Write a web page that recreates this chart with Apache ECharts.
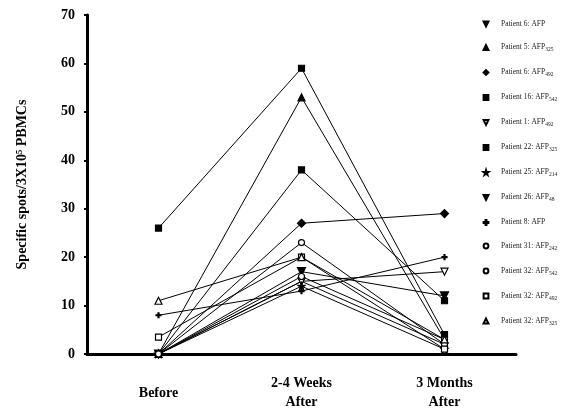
<!DOCTYPE html>
<html><head><meta charset="utf-8">
<script src="https://cdn.jsdelivr.net/npm/echarts@6/dist/echarts.min.js"></script>
<style>html,body{margin:0;padding:0;background:#fff}#c{width:586px;height:412px}</style>
</head><body><div id="c"></div>
<script>
const categories = ['Before', '2-4 Weeks\nAfter', '3 Months\nAfter'];
const yTicks = [0, 10, 20, 30, 40, 50, 60, 70];
const names = ['Patient 6: AFP', 'Patient 5: AFP325', 'Patient 6: AFP492', 'Patient 16: AFP542',
  'Patient 1: AFP492', 'Patient 22: AFP325', 'Patient 25: AFP214', 'Patient 26: AFP48',
  'Patient 8: AFP', 'Patient 31: AFP242', 'Patient 32: AFP542', 'Patient 32: AFP492', 'Patient 32: AFP325'];
const p6 = [0, 15, 2];
const p5 = [0, 53, 3];
const p6b = [0, 27, 29];
const p16 = [0, 38, 11];
const p1 = [0, 15, 17];
const p22 = [26, 59, 4];
const p25 = [0, 14, 1];
const p26 = [0, 17, 12];
const p8 = [8, 13, 20];
const p31 = [0, 16, 3];
const p32a = [0, 23, 2];
const p32b = [3.5, 20, 1];
const p32c = [11, 20, 3];
const seriesValues = [p6, p5, p6b, p16, p1, p22, p25, p26, p8, p31, p32a, p32b, p32c];

const star = 'path://M50,0 L61,35 L98,35 L68,57 L79,91 L50,70 L21,91 L32,57 L2,35 L39,35 Z';
const cross = 'path://M40,0 H60 V40 H100 V60 H60 V100 H40 V60 H0 V40 H40 Z';
const styles = [
  {s: 'triangle', r: 180, fill: '#000', size: 5},
  {s: 'triangle', r: 0, fill: '#000', size: 7},
  {s: 'diamond', r: 0, fill: '#000', size: 8},
  {s: 'rect', r: 0, fill: '#000', size: 6},
  {s: 'triangle', r: 180, fill: '#fff', size: 7},
  {s: 'rect', r: 0, fill: '#000', size: 6},
  {s: star, r: 0, fill: '#000', size: 7},
  {s: 'triangle', r: 180, fill: '#000', size: 8},
  {s: cross, r: 0, fill: '#000', size: 5},
  {s: 'circle', r: 0, fill: '#fff', size: 6},
  {s: 'circle', r: 0, fill: '#fff', size: 6},
  {s: 'rect', r: 0, fill: '#fff', size: 6},
  {s: 'triangle', r: 0, fill: '#fff', size: 7}
];

const font = '"Liberation Serif", "DejaVu Serif", serif';
const series = names.map((n, i) => ({
  name: n, type: 'line', data: seriesValues[i],
  symbol: styles[i].s, symbolRotate: styles[i].r, symbolSize: styles[i].size,
  showAllSymbol: true,
  lineStyle: {color: '#000', width: 1},
  itemStyle: {color: styles[i].fill, borderColor: '#000', borderWidth: 1.2},
  emphasis: {disabled: true},
  z: 3
}));

const chart = echarts.init(document.getElementById('c'));
chart.setOption({
  animation: false,
  backgroundColor: '#fff',
  grid: {left: 87, right: 70, top: 15, bottom: 55},
  legend: {
    orient: 'vertical', left: 470, top: 15,
    itemWidth: 20, itemHeight: 6, itemGap: 15.5,
    lineStyle: {opacity: 0},
    data: names.map(n => ({name: n})),
    formatter: function (name) {
      const m = name.match(/^(.*AFP)(\d*)$/);
      return m && m[2] ? m[1] + '{sub|' + m[2] + '}' : name;
    },
    textStyle: {fontFamily: font, fontSize: 7.5, color: '#222',
      rich: {sub: {fontFamily: font, fontSize: 5.5, color: '#222', verticalAlign: 'bottom', padding: [5, 0, 0, 0]}}}
  },
  xAxis: {
    type: 'category', data: categories, boundaryGap: true,
    axisLine: {lineStyle: {color: '#000', width: 3}},
    axisTick: {alignWithLabel: true, length: 4, lineStyle: {color: '#000', width: 2}},
    axisLabel: {color: '#000', fontFamily: font, fontWeight: 'bold', fontSize: 14, margin: 20, lineHeight: 19,
      formatter: v => v.indexOf('\n') < 0 ? '{b|' + v + '}' : v,
      rich: {b: {color: '#000', fontFamily: font, fontWeight: 'bold', fontSize: 14, padding: [19, 0, 0, 0]}}}
  },
  yAxis: {
    type: 'value', min: 0, max: 70, interval: 10,
    name: 'Specific spots/3X10\u2075 PBMCs', nameLocation: 'middle', nameGap: 58,
    nameTextStyle: {color: '#000', fontFamily: font, fontWeight: 'bold', fontSize: 14},
    splitLine: {show: false},
    axisLine: {show: true, lineStyle: {color: '#000', width: 3}},
    axisTick: {show: true, length: 3, lineStyle: {color: '#000', width: 2}},
    axisLabel: {color: '#000', fontFamily: font, fontWeight: 'bold', fontSize: 14, margin: 12,
      formatter: v => yTicks.includes(v) ? String(v) : ''}
  },
  series: series
});
</script></body></html>
